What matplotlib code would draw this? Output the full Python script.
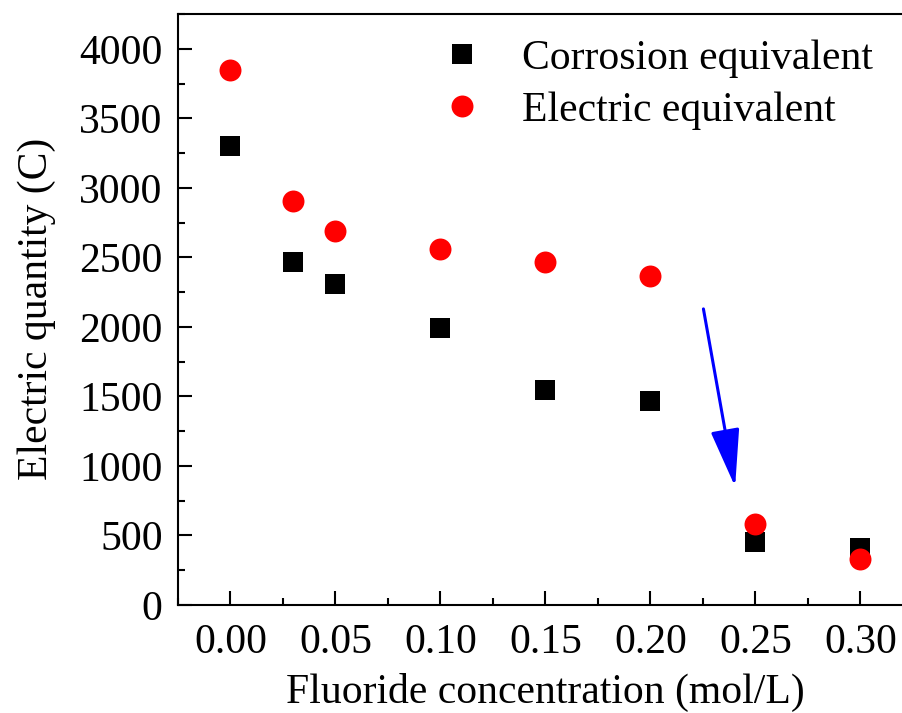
import matplotlib

matplotlib.use('Agg')

import matplotlib.pyplot as plt
from matplotlib.ticker import MultipleLocator

# fluoride concentration (mol/L)
conc = [0.00, 0.03, 0.05, 0.10, 0.15, 0.20, 0.25, 0.30]
# electric quantity (C)
corrosion_eq = [3300, 2470, 2310, 1990, 1550, 1470, 450, 410]
electric_eq = [3845, 2905, 2690, 2560, 2470, 2370, 580, 330]

arrow_tail = (0.2252, 2130)
arrow_tip = (0.2403, 851)

params = {'font.family': ['Liberation Serif', 'DejaVu Serif'],
          'font.size': 30,
          'axes.linewidth': 1.5,
          'mathtext.fontset': 'stix'}
plt.rcParams.update(params)

fig = plt.figure(figsize=(9.03, 7.13), dpi=100)
ax = fig.add_axes([178 / 903, 108 / 713, 735 / 903, 591.5 / 713])

ax.plot(conc, corrosion_eq, ls='none', marker='s', markersize=14, color='black',
        markeredgewidth=0, label='Corrosion equivalent')
ax.plot(conc, electric_eq, ls='none', marker='o', markersize=15.8, color='red',
        markeredgewidth=0, label='Electric equivalent')

ax.annotate('', xy=arrow_tip, xytext=arrow_tail,
            arrowprops=dict(arrowstyle='-|>,head_length=3.6,head_width=0.9', mutation_scale=10,
                            color='blue', lw=2.2, shrinkA=0, shrinkB=0))

ax.set_xlim(-0.025, 0.325)
ax.set_ylim(0, 4255)

ax.xaxis.set_major_locator(MultipleLocator(0.05))
ax.xaxis.set_minor_locator(MultipleLocator(0.025))
ax.yaxis.set_major_locator(MultipleLocator(500))
ax.yaxis.set_minor_locator(MultipleLocator(250))
ax.xaxis.set_major_formatter(matplotlib.ticker.FormatStrFormatter('%.2f'))

ax.tick_params(which='both', direction='in', width=1.5, top=False, right=False)
ax.tick_params(which='major', length=10)
ax.tick_params(which='minor', length=5)
ax.tick_params(axis='y', pad=11)
ax.tick_params(axis='x', pad=13)

ax.set_xlabel('Fluoride concentration (mol/L)', labelpad=8)
ax.set_ylabel('Electric quantity (C)', labelpad=17)

ax.legend(loc='upper left', bbox_to_anchor=(0.352, 0.956), frameon=False, borderpad=0,
          borderaxespad=0, handlelength=1.2, handletextpad=0.85, labelspacing=0.32,
          numpoints=1, fontsize=30)

plt.savefig('out.png', dpi=100)
